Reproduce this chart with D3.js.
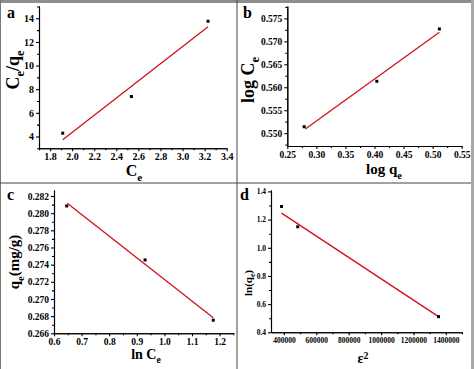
<!DOCTYPE html>
<html>
<head>
<meta charset="utf-8">
<script src="https://cdn.jsdelivr.net/npm/d3@7"></script>
<style>
  body { margin: 0; background: #fff; }
  svg text { font-family: "Liberation Serif", "Times New Roman", serif; font-weight: bold; fill: #000; }
  .axis path, .axis line { stroke: #000; stroke-width: 1.1; }
</style>
</head>
<body>
<svg id="chart" width="474" height="369"></svg>
<script>
// a: Langmuir  Ce/qe vs Ce
var ceA = [1.915, 2.537, 3.231];
var ceQeA = [4.28, 7.38, 13.75];
var fitXA = [1.915, 3.231];
var fitYA = [3.73, 13.29];
var xTicksA = [1.8, 2.0, 2.2, 2.4, 2.6, 2.8, 3.0, 3.2, 3.4];
var yTicksA = [4, 6, 8, 10, 12, 14];

// b: Freundlich  log Ce vs log qe
var logQeB = [0.279, 0.404, 0.5116];
var logCeB = [0.5514, 0.5613, 0.5727];
var fitXB = [0.281, 0.5116];
var fitYB = [0.5509, 0.5720];
var xTicksB = [0.25, 0.30, 0.35, 0.40, 0.45, 0.50, 0.55];
var yTicksB = [0.550, 0.555, 0.560, 0.565, 0.570, 0.575];

// c: Temkin  qe vs ln Ce
var lnCeC = [0.646, 0.93, 1.177];
var qeC = [0.28084, 0.27455, 0.26753];
var fitXC = [0.648, 1.177];
var fitYC = [0.28115, 0.2678];
var xTicksC = [0.6, 0.7, 0.8, 0.9, 1.0, 1.1, 1.2];
var yTicksC = [0.266, 0.268, 0.270, 0.272, 0.274, 0.276, 0.278, 0.280, 0.282];

// d: D-R  ln(qe) vs eps^2
var eps2D = [385000, 485000, 1355000];
var lnQeD = [1.293, 1.149, 0.511];
var fitXD = [385000, 1355000];
var fitYD = [1.246, 0.511];
var xTicksD = [400000, 600000, 800000, 1000000, 1200000, 1400000];
var yTicksD = [0.4, 0.6, 0.8, 1.0, 1.2, 1.4];

var serif = '"Liberation Serif", "Times New Roman", serif';
var svg = d3.select('#chart');

// frame and dividers
svg.append('rect').attr('x', 0).attr('y', 0).attr('width', 474).attr('height', 3).attr('fill', '#8e8e8e');
svg.append('rect').attr('x', 471).attr('y', 0).attr('width', 3).attr('height', 369).attr('fill', '#a8a8a8');
svg.append('rect').attr('x', 0).attr('y', 0).attr('width', 1).attr('height', 369).attr('fill', '#777');
svg.append('line').attr('x1', 237).attr('x2', 237).attr('y1', 0).attr('y2', 369).attr('stroke', '#444').attr('stroke-width', 1);
svg.append('line').attr('x1', 0).attr('x2', 471).attr('y1', 183).attr('y2', 183).attr('stroke', '#444').attr('stroke-width', 1);

function minors(ticks) {
  var step = ticks[1] - ticks[0];
  var out = [ticks[0] - step / 2];
  ticks.forEach(function(t) { out.push(t + step / 2); });
  return out;
}

// text with subscript / superscript parts: [text, shift]  shift 1 = sub, -1 = sup
function richText(g, parts, size) {
  var t = g.append('text').attr('font-size', size);
  var prev = 0;
  parts.forEach(function(p) {
    var s = p[1];
    var dy = (s - prev) * size * 0.3;
    t.append('tspan')
      .attr('dy', dy)
      .attr('font-size', s === 0 ? size : size * 0.7)
      .text(p[0]);
    prev = s;
  });
  return t;
}

function drawPanel(p) {
  var x = d3.scaleLinear().domain(p.xDomain).range(p.xRange);
  var y = d3.scaleLinear().domain(p.yDomain).range(p.yRange);
  var g = svg.append('g');
  var bottom = p.yRange[0], left = p.xRange[0];

  // minor ticks
  g.append('g').attr('class', 'axis')
    .attr('transform', 'translate(0,' + bottom + ')')
    .call(d3.axisBottom(x).tickValues(minors(p.xTicks).filter(function(v) { return v >= p.xDomain[0] && v <= p.xDomain[1]; }))
      .tickSize(2).tickSizeOuter(0).tickFormat(''));
  g.append('g').attr('class', 'axis')
    .attr('transform', 'translate(' + left + ',0)')
    .call(d3.axisLeft(y).tickValues(minors(p.yTicks).filter(function(v) { return v >= p.yDomain[0] && v <= p.yDomain[1]; }))
      .tickSize(2).tickSizeOuter(0).tickFormat(''));

  // major ticks
  var xa = g.append('g').attr('class', 'axis')
    .attr('transform', 'translate(0,' + bottom + ')')
    .call(d3.axisBottom(x).tickValues(p.xTicks).tickSize(3).tickSizeOuter(0).tickPadding(2).tickFormat(p.xFormat));
  var ya = g.append('g').attr('class', 'axis')
    .attr('transform', 'translate(' + left + ',0)')
    .call(d3.axisLeft(y).tickValues(p.yTicks).tickSize(3).tickSizeOuter(0).tickPadding(2).tickFormat(p.yFormat));
  [xa, ya].forEach(function(a) {
    a.attr('font-family', serif).attr('font-size', p.tickSize).attr('font-weight', 'bold');
    a.selectAll('text')
      .style('font-family', serif)
      .style('font-size', p.tickSize + 'px')
      .style('font-weight', '700');
  });

  // fit line
  var pts = p.fitX.map(function(v, i) { return [v, p.fitY[i]]; });
  g.append('path')
    .datum(pts)
    .attr('d', d3.line().x(function(d) { return x(d[0]); }).y(function(d) { return y(d[1]); }))
    .attr('stroke', '#d0101a')
    .attr('stroke-width', 1.3)
    .attr('fill', 'none');

  // data points
  g.selectAll('rect.pt')
    .data(p.xs)
    .enter()
    .append('rect')
    .attr('class', 'pt')
    .attr('x', function(d) { return x(d) - 1.5; })
    .attr('y', function(d, i) { return y(p.ys[i]) - 1.5; })
    .attr('width', 3)
    .attr('height', 3)
    .attr('fill', '#000');

  // panel letter
  g.append('text').attr('x', p.letterPos[0]).attr('y', p.letterPos[1])
    .attr('font-size', 16).text(p.letter);

  // x title
  var xg = g.append('g').attr('transform', 'translate(' + p.xTitlePos[0] + ',' + p.xTitlePos[1] + ')');
  richText(xg, p.xTitle, p.xTitleSize).attr('text-anchor', 'middle');

  // y title
  var yg = g.append('g').attr('transform', 'translate(' + p.yTitlePos[0] + ',' + p.yTitlePos[1] + ') rotate(-90)');
  richText(yg, p.yTitle, p.yTitleSize).attr('text-anchor', 'middle');
}

var fmt3 = d3.format('.3f'), fmt1 = d3.format('.1f'), fmt2 = d3.format('.2f'), fmt0 = d3.format('d');

drawPanel({
  xDomain: [1.7, 3.4], xRange: [39, 226.7],
  yDomain: [3, 15.04], yRange: [148.3, 6],
  xTicks: xTicksA, yTicks: yTicksA, xFormat: fmt1, yFormat: fmt0, tickSize: 10,
  xs: ceA, ys: ceQeA, fitX: fitXA, fitY: fitYA,
  letter: 'a', letterPos: [7, 18],
  xTitle: [['C', 0], ['e', 1]], xTitleSize: 16, xTitlePos: [134, 176],
  yTitle: [['C', 0], ['e', 1], ['/q', 0], ['e', 1]], yTitleSize: 18, yTitlePos: [19, 70]
});

drawPanel({
  xDomain: [0.25, 0.55], xRange: [287.3, 461.7],
  yDomain: [0.5472, 0.5777], yRange: [146, 6],
  xTicks: xTicksB, yTicks: yTicksB, xFormat: fmt2, yFormat: fmt3, tickSize: 9.5,
  xs: logQeB, ys: logCeB, fitX: fitXB, fitY: fitYB,
  letter: 'b', letterPos: [243, 18],
  xTitle: [['log q', 0], ['e', 1]], xTitleSize: 15, xTitlePos: [384, 174],
  yTitle: [['log C', 0], ['e', 1]], yTitleSize: 18, yTitlePos: [254, 80]
});

drawPanel({
  xDomain: [0.6, 1.25], xRange: [54, 233.4],
  yDomain: [0.266, 0.2827], yRange: [333.3, 190],
  xTicks: xTicksC, yTicks: yTicksC, xFormat: fmt1, yFormat: fmt3, tickSize: 9.5,
  xs: lnCeC, ys: qeC, fitX: fitXC, fitY: fitYC,
  letter: 'c', letterPos: [7, 200],
  xTitle: [['ln C', 0], ['e', 1]], xTitleSize: 14, xTitlePos: [146, 359],
  yTitle: [['q', 0], ['e', 1], ['(mg/g)', 0]], yTitleSize: 15, yTitlePos: [19, 262]
});

drawPanel({
  xDomain: [320000, 1500000], xRange: [271, 462],
  yDomain: [0.4, 1.41], yRange: [332.3, 190],
  xTicks: xTicksD, yTicks: yTicksD, xFormat: fmt0, yFormat: fmt1, tickSize: 7.5,
  xs: eps2D, ys: lnQeD, fitX: fitXD, fitY: fitYD,
  letter: 'd', letterPos: [240, 200],
  xTitle: [['\u03b5', 0], ['2', -1]], xTitleSize: 14, xTitlePos: [363, 363],
  yTitle: [['ln', 0], ['(q', 0], ['e', 1], [')', 0]], yTitleSize: 11, yTitlePos: [252, 283]
});
</script>
</body>
</html>
